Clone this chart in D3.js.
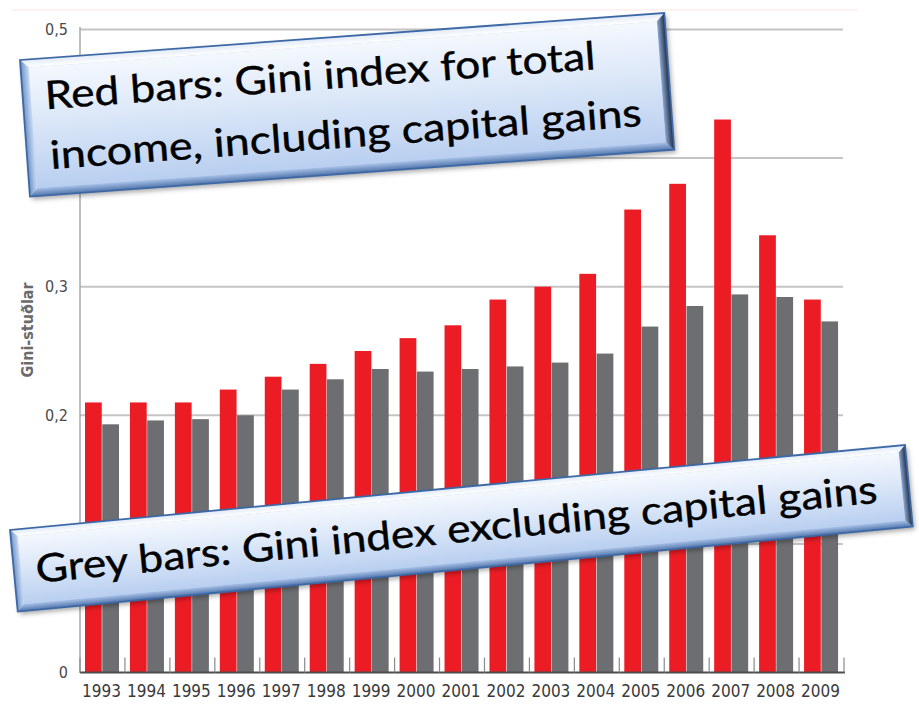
<!DOCTYPE html>
<html>
<head>
<meta charset="utf-8">
<script src="https://cdn.jsdelivr.net/npm/d3@7"></script>
<style>
  html, body { margin: 0; padding: 0; background: #fff; }
  svg { display: block; }
</style>
</head>
<body>
<svg id="chart" width="919" height="705"></svg>
<script>
// Gini index per year, Iceland 1993–2009
const years = ["1993","1994","1995","1996","1997","1998","1999","2000","2001",
               "2002","2003","2004","2005","2006","2007","2008","2009"];
// Total income, including capital gains (red)
const giniIncl = [0.21,0.21,0.21,0.22,0.23,0.24,0.25,0.26,0.27,
                  0.29,0.30,0.31,0.36,0.38,0.43,0.34,0.29];
// Income excluding capital gains (grey)
const giniExcl = [0.193,0.196,0.197,0.200,0.220,0.228,0.236,0.234,0.236,
                  0.238,0.241,0.248,0.269,0.285,0.294,0.292,0.273];
const yTicks = [0, 0.1, 0.2, 0.3, 0.4, 0.5];
const seriesKeys = ["incl", "excl"];
const yTitle = "Gini-stuðlar";
const noteRed = ["Red bars: Gini index for total", "income, including capital gains"];
const noteGrey = ["Grey bars: Gini index excluding capital gains"];

const svg = d3.select("#chart");
const narrow = "'Liberation Sans Narrow', 'DejaVu Sans Condensed', sans-serif";

const x = d3.scaleBand().domain(years).range([80, 844]);
const xs = d3.scaleBand().domain(seriesKeys).range([5, 39]).paddingInner(0.03);
const y = d3.scaleLinear().domain([0, 0.5]).range([672.5, 29.5]);
const color = { incl: "#ec1c24", excl: "#6d6e71" };

// faint frame line along the top
svg.append("line").attr("x1", 12).attr("x2", 858).attr("y1", 10).attr("y2", 10)
  .attr("stroke", "#fbe3e3").attr("stroke-width", 1);

// horizontal gridlines
svg.append("g").selectAll("line").data(yTicks.filter(d => d > 0)).join("line")
  .attr("x1", 80).attr("x2", 843)
  .attr("y1", d => y(d)).attr("y2", d => y(d))
  .attr("stroke", "#c4c4c4").attr("stroke-width", 2);

// y axis
const yAxis = d3.axisLeft(y).tickValues(yTicks).tickSize(0).tickPadding(12)
  .tickFormat(d => d === 0 ? "0" : d.toFixed(1).replace(".", ","));
const gy = svg.append("g").attr("transform", "translate(80,0)").call(yAxis);
gy.select(".domain").remove();
gy.selectAll("text").attr("font-family", narrow)
  .attr("font-size", 16).attr("fill", "#4a4a4a");
svg.append("line").attr("x1", 80).attr("x2", 80).attr("y1", 27).attr("y2", 673)
  .attr("stroke", "#a8a8a8").attr("stroke-width", 1.5);

svg.append("text")
  .attr("transform", `translate(33,${330}) rotate(-90)`)
  .attr("text-anchor", "middle")
  .attr("font-family", narrow)
  .attr("font-size", 16).attr("font-weight", "bold").attr("fill", "#6a6a6a")
  .text(yTitle);

// bars
const groups = svg.append("g").selectAll("g").data(years).join("g")
  .attr("transform", d => `translate(${x(d)},0)`);
groups.selectAll("rect")
  .data((d, i) => [{ key: "incl", v: giniIncl[i] }, { key: "excl", v: giniExcl[i] }])
  .join("rect")
  .attr("x", d => xs(d.key))
  .attr("width", xs.bandwidth())
  .attr("y", d => y(d.v))
  .attr("height", d => y(0) - y(d.v))
  .attr("fill", d => color[d.key]);

// x axis
const xAxis = d3.axisBottom(x).tickSize(0).tickPadding(12);
const gx = svg.append("g").attr("transform", `translate(0,${y(0)})`).call(xAxis);
gx.select(".domain").remove();
gx.selectAll("text")
  .attr("font-family", narrow)
  .attr("font-size", 17).attr("fill", "#3a3a3a")
  .attr("dx", -1);
svg.append("line").attr("x1", 80).attr("x2", 845).attr("y1", y(0)).attr("y2", y(0))
  .attr("stroke", "#4d4d4d").attr("stroke-width", 2);
// separators between year groups
svg.append("g").selectAll("line").data(years.concat(["end"])).join("line")
  .attr("x1", (d, i) => 80 + i * x.step()).attr("x2", (d, i) => 80 + i * x.step())
  .attr("y1", y(0) - 15).attr("y2", y(0))
  .attr("stroke", "#8a8a8a").attr("stroke-width", 1.2);

// ---- beveled callout boxes ----
const defs = svg.append("defs");
function grad(id, x1, y1, x2, y2, stops) {
  const g = defs.append("linearGradient").attr("id", id)
    .attr("x1", x1).attr("y1", y1).attr("x2", x2).attr("y2", y2);
  stops.forEach(s => g.append("stop").attr("offset", s[0]).attr("stop-color", s[1]));
}
grad("faceGrad", 0, 0, 0, 1, [[0, "#f4f8fe"], [0.45, "#dbe7f8"], [1, "#b9cff0"]]);
grad("topBevel", 0, 0, 0, 1, [[0, "#dfe9f7"], [1, "#ffffff"]]);
grad("leftBevel", 0, 0, 1, 0, [[0, "#6f93c7"], [1, "#c9daf3"]]);
grad("rightBevel", 1, 0, 0, 0, [[0, "#1b2940"], [1, "#8eaad4"]]);
grad("bottomBevel", 0, 1, 0, 0, [[0, "#4f73aa"], [1, "#a9c2e8"]]);
const shadow = defs.append("filter").attr("id", "shadow")
  .attr("x", "-5%").attr("y", "-20%").attr("width", "110%").attr("height", "140%");
shadow.append("feDropShadow").attr("dx", 2).attr("dy", 3).attr("stdDeviation", 2.5)
  .attr("flood-color", "#000").attr("flood-opacity", 0.35);

function callout(x0, y0, angle, w, h, b, lines, font) {
  const g = svg.append("g").attr("transform", `translate(${x0},${y0}) rotate(${angle})`);
  const body = g.append("g").attr("filter", "url(#shadow)");
  const poly = pts => pts.map(p => p.join(",")).join(" ");
  body.append("rect").attr("width", w).attr("height", h).attr("fill", "#b9cff0");
  g.append("polygon").attr("points", poly([[0,0],[w,0],[w-b,b],[b,b]])).attr("fill", "url(#topBevel)");
  g.append("polygon").attr("points", poly([[0,0],[b,b],[b,h-b],[0,h]])).attr("fill", "url(#leftBevel)");
  g.append("polygon").attr("points", poly([[0,h],[b,h-b],[w-b,h-b],[w,h]])).attr("fill", "url(#bottomBevel)");
  g.append("polygon").attr("points", poly([[w,0],[w,h],[w-b,h-b],[w-b,b]])).attr("fill", "url(#rightBevel)");
  g.append("rect").attr("x", b).attr("y", b).attr("width", w - 2 * b).attr("height", h - 2 * b)
    .attr("fill", "url(#faceGrad)");
  g.append("rect").attr("width", w).attr("height", h).attr("fill", "none")
    .attr("stroke", "#3d68a6").attr("stroke-width", 1.8);
  lines.forEach(l => {
    g.append("text").attr("x", l.x).attr("y", l.y)
      .attr("font-family", "Lato, 'Open Sans', sans-serif")
      .attr("font-size", font).attr("fill", "#000")
      .attr("stroke", "#000").attr("stroke-width", 0.4)
      .attr("textLength", l.len).attr("lengthAdjust", "spacingAndGlyphs")
      .text(l.t);
  });
}

callout(20, 60, -4.17, 646, 137, 8, [
  { t: noteRed[0], x: 22, y: 51, len: 552 },
  { t: noteRed[1], x: 23, y: 111, len: 593 }
], 39);

callout(10, 530, -5.43, 899, 82, 7, [
  { t: noteGrey[0], x: 22, y: 55, len: 845 }
], 39);
</script>
</body>
</html>
